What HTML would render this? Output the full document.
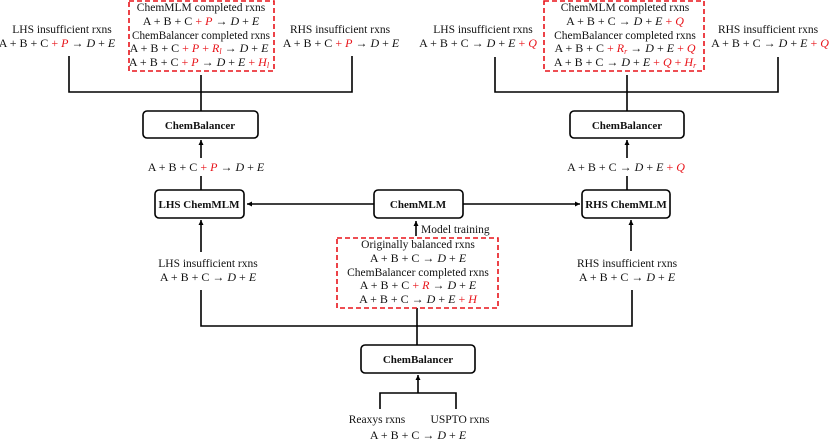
<!DOCTYPE html>
<html><head><meta charset="utf-8"><style>
html,body{margin:0;padding:0;background:#fff;}
svg{display:block;}
text{font-family:"Liberation Serif",serif;font-size:11.5px;fill:#111;}
.b{font-weight:bold;font-size:11px;}
.e{font-size:12px;}
.i{font-style:italic;}
.r{fill:#e8141a;}
</style></head><body>
<svg width="830" height="442" viewBox="0 0 830 442" xmlns="http://www.w3.org/2000/svg">
<defs><marker id="a" markerWidth="6" markerHeight="6" refX="5" refY="3" orient="auto" markerUnits="userSpaceOnUse"><path d="M0,0.5 L5,3 L0,5.5z" fill="#000"/></marker></defs>
<g stroke="#000" stroke-width="1.6" fill="none">
<path d="M69,56 V92 H352 V56"/><path d="M201,75 V111"/>
<path d="M201,158 V140" marker-end="url(#a)"/><path d="M201,176 V190"/>
<path d="M495,57 V92 H778 V57"/><path d="M627,75 V111"/>
<path d="M627,158 V140" marker-end="url(#a)"/><path d="M627,176 V190"/>
<path d="M374,204 H247" marker-end="url(#a)"/>
<path d="M463,204 H580" marker-end="url(#a)"/>
<path d="M416,236 V221" marker-end="url(#a)"/>
<path d="M201,252 V220" marker-end="url(#a)"/>
<path d="M631,251 V220" marker-end="url(#a)"/>
<path d="M201,290 V326 H632 V290"/>
<path d="M417,308 V345"/>
<path d="M418,393 V375" marker-end="url(#a)"/>
<path d="M380,409 V393 H456 V409"/>
</g>
<g stroke="#000" stroke-width="1.6" fill="#fff">
<rect x="143" y="111" width="115" height="27" rx="4"/>
<rect x="570" y="111" width="114" height="27" rx="4"/>
<rect x="155" y="190" width="89" height="28" rx="4"/>
<rect x="374" y="190" width="89" height="28" rx="4"/>
<rect x="582" y="190" width="88" height="28" rx="4"/>
<rect x="361" y="345" width="114" height="28" rx="4"/>
</g>
<g stroke="#e8141a" stroke-width="1.6" fill="none" stroke-dasharray="5,3">
<rect x="129" y="1" width="145" height="70"/>
<rect x="544" y="1" width="160" height="70"/>
<rect x="337" y="238" width="161" height="70"/>
</g>
<g text-anchor="middle">
<text class="b" x="200" y="129">ChemBalancer</text>
<text class="b" x="627" y="129">ChemBalancer</text>
<text class="b" x="199" y="208">LHS ChemMLM</text>
<text class="b" x="418" y="208">ChemMLM</text>
<text class="b" x="626" y="208">RHS ChemMLM</text>
<text class="b" x="418" y="363">ChemBalancer</text>

<text x="62" y="33">LHS insufficient rxns</text>
<text class="e" x="57" y="47">A + B + C <tspan class="r">+ </tspan><tspan class="r i">P</tspan> → <tspan class="i">D</tspan> + <tspan class="i">E</tspan></text>
<text x="201" y="11">ChemMLM completed rxns</text>
<text class="e" x="201" y="25">A + B + C <tspan class="r">+ </tspan><tspan class="r i">P</tspan> → <tspan class="i">D</tspan> + <tspan class="i">E</tspan></text>
<text x="201" y="39" textLength="138" lengthAdjust="spacingAndGlyphs">ChemBalancer completed rxns</text>
<text class="e" x="199" y="52">A + B + C <tspan class="r">+ </tspan><tspan class="r i">P</tspan><tspan class="r"> + </tspan><tspan class="r i">R<tspan font-size="8" dy="2">l</tspan></tspan><tspan dy="-2"> → </tspan><tspan class="i">D</tspan> + <tspan class="i">E</tspan></text>
<text class="e" x="199" y="66">A + B + C <tspan class="r">+ </tspan><tspan class="r i">P</tspan> → <tspan class="i">D</tspan> + <tspan class="i">E</tspan><tspan class="r"> + </tspan><tspan class="r i">H<tspan font-size="8" dy="2">l</tspan></tspan></text>
<text x="340" y="33">RHS insufficient rxns</text>
<text class="e" x="341" y="47">A + B + C <tspan class="r">+ </tspan><tspan class="r i">P</tspan> → <tspan class="i">D</tspan> + <tspan class="i">E</tspan></text>
<text class="e" x="206" y="171">A + B + C <tspan class="r">+ </tspan><tspan class="r i">P</tspan> → <tspan class="i">D</tspan> + <tspan class="i">E</tspan></text>

<text x="483" y="33">LHS insufficient rxns</text>
<text class="e" x="478" y="47">A + B + C → <tspan class="i">D</tspan> + <tspan class="i">E</tspan><tspan class="r"> + </tspan><tspan class="r i">Q</tspan></text>
<text x="625" y="11">ChemMLM completed rxns</text>
<text class="e" x="625" y="25">A + B + C → <tspan class="i">D</tspan> + <tspan class="i">E</tspan><tspan class="r"> + </tspan><tspan class="r i">Q</tspan></text>
<text x="625" y="39">ChemBalancer completed rxns</text>
<text class="e" x="625" y="52">A + B + C <tspan class="r">+ </tspan><tspan class="r i">R<tspan font-size="8" dy="2">r</tspan></tspan><tspan dy="-2"> → </tspan><tspan class="i">D</tspan> + <tspan class="i">E</tspan><tspan class="r"> + </tspan><tspan class="r i">Q</tspan></text>
<text class="e" x="625" y="66">A + B + C → <tspan class="i">D</tspan> + <tspan class="i">E</tspan><tspan class="r"> + </tspan><tspan class="r i">Q</tspan><tspan class="r"> + </tspan><tspan class="r i">H<tspan font-size="8" dy="2">r</tspan></tspan></text>
<text x="768" y="33">RHS insufficient rxns</text>
<text class="e" x="770" y="47">A + B + C → <tspan class="i">D</tspan> + <tspan class="i">E</tspan><tspan class="r"> + </tspan><tspan class="r i">Q</tspan></text>
<text class="e" x="626" y="171">A + B + C → <tspan class="i">D</tspan> + <tspan class="i">E</tspan><tspan class="r"> + </tspan><tspan class="r i">Q</tspan></text>

<text x="208" y="267">LHS insufficient rxns</text>
<text class="e" x="208" y="281">A + B + C → <tspan class="i">D</tspan> + <tspan class="i">E</tspan></text>
<text x="627" y="267">RHS insufficient rxns</text>
<text class="e" x="627" y="281">A + B + C → <tspan class="i">D</tspan> + <tspan class="i">E</tspan></text>
<text x="418" y="248">Originally balanced rxns</text>
<text class="e" x="418" y="262">A + B + C → <tspan class="i">D</tspan> + <tspan class="i">E</tspan></text>
<text x="418" y="276">ChemBalancer completed rxns</text>
<text class="e" x="418" y="289">A + B + C <tspan class="r">+ </tspan><tspan class="r i">R</tspan> → <tspan class="i">D</tspan> + <tspan class="i">E</tspan></text>
<text class="e" x="418" y="303">A + B + C → <tspan class="i">D</tspan> + <tspan class="i">E</tspan><tspan class="r"> + </tspan><tspan class="r i">H</tspan></text>

<text x="377" y="423">Reaxys rxns</text>
<text x="460" y="423">USPTO rxns</text>
<text class="e" x="418" y="439">A + B + C → <tspan class="i">D</tspan> + <tspan class="i">E</tspan></text>
</g>
<text x="421" y="233">Model training</text>
</svg>
</body></html>
